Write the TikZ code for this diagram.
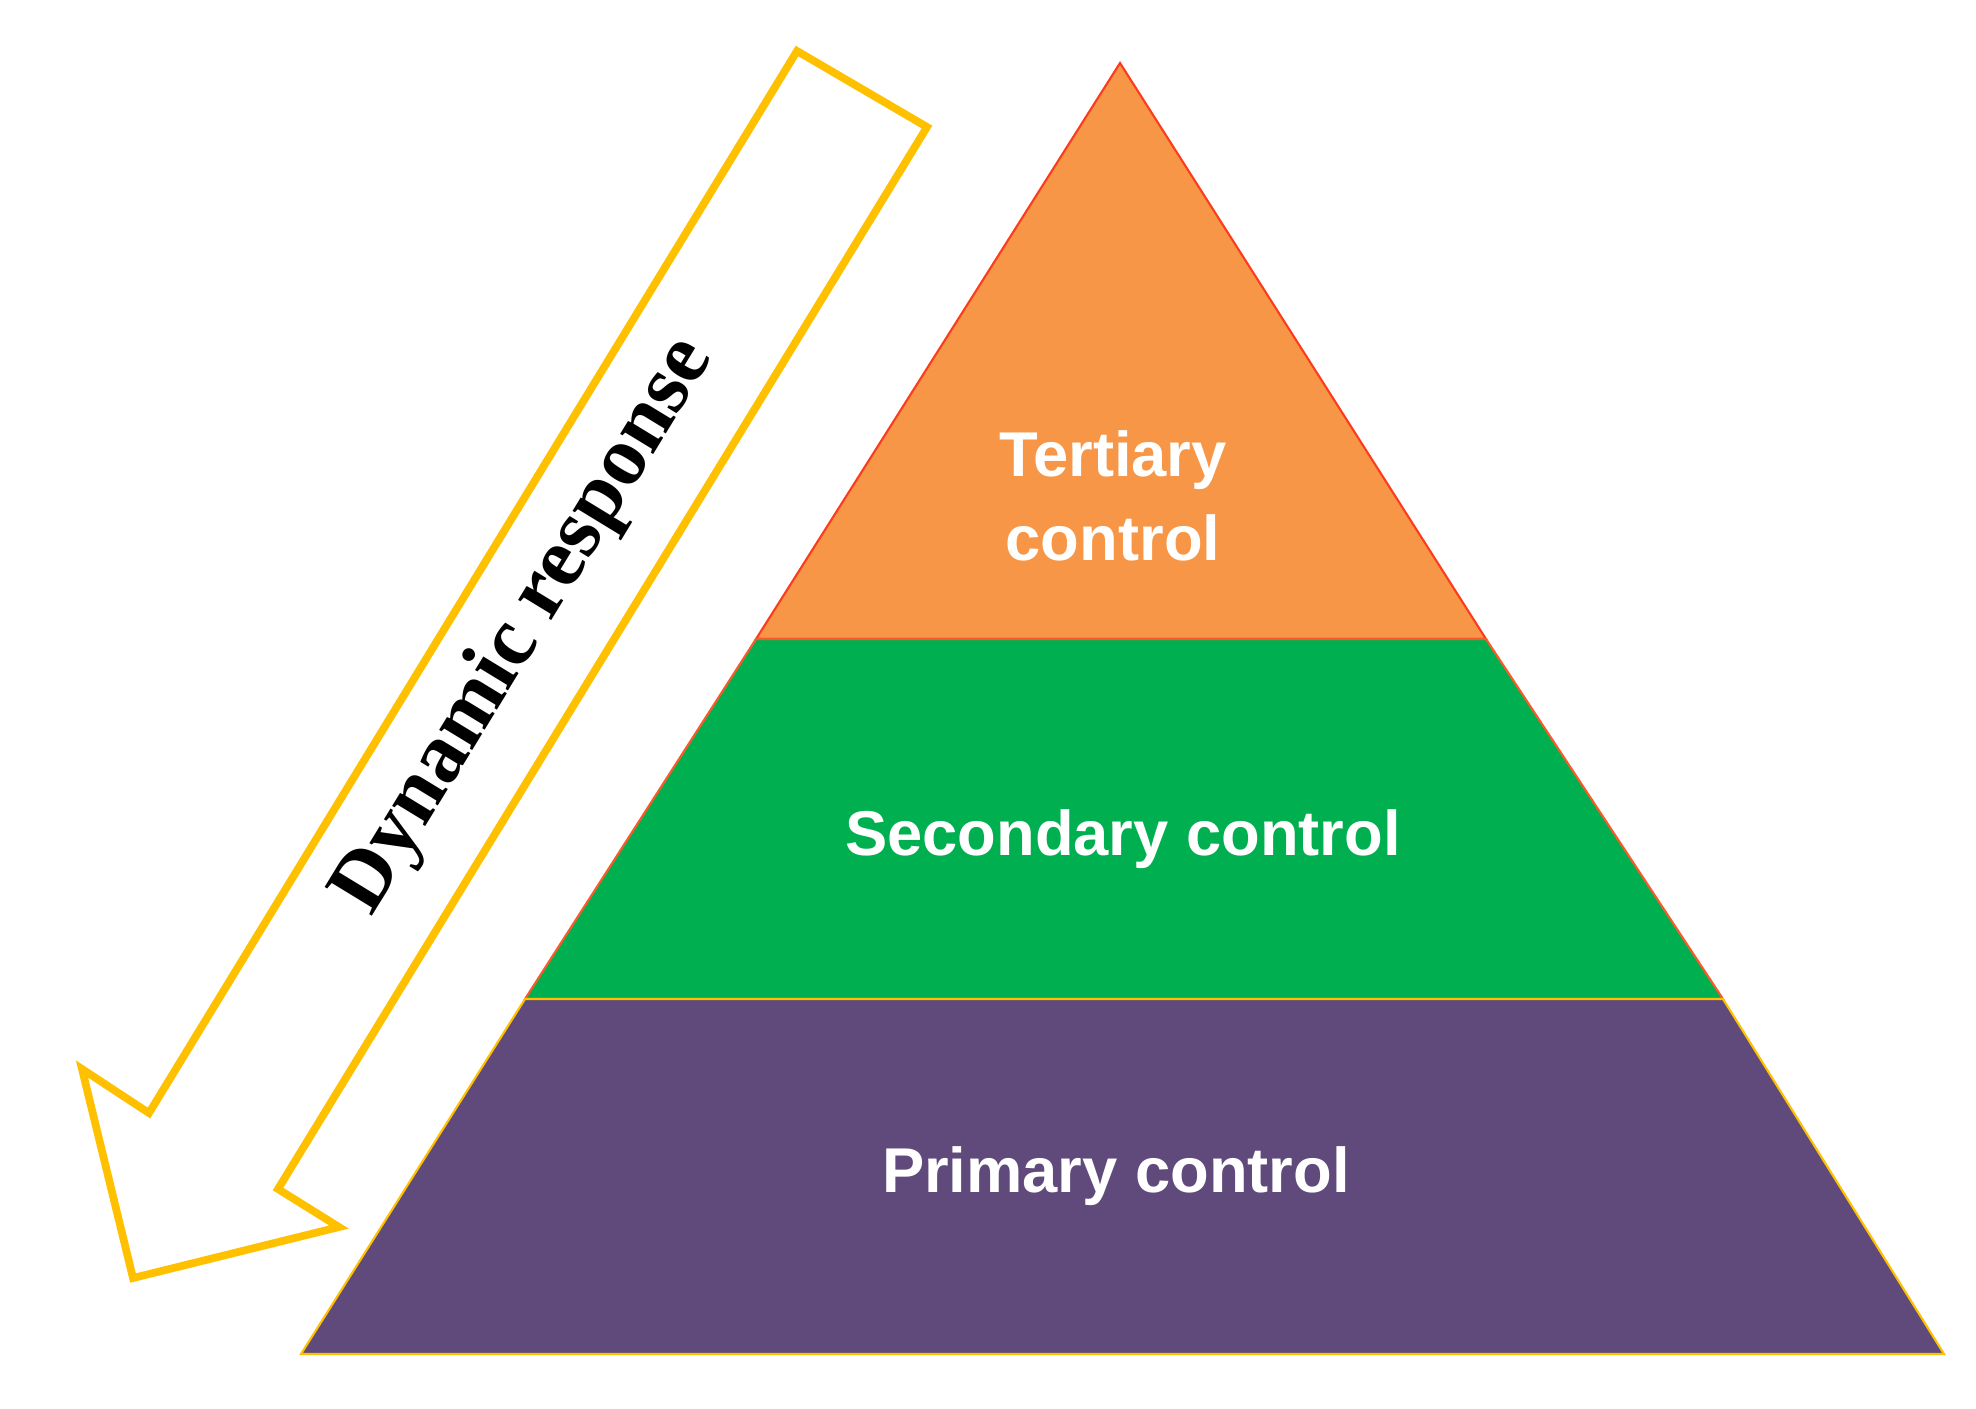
\documentclass[tikz,border=0pt]{standalone}
\usepackage{fontspec}
\setmainfont{Liberation Sans}
\newfontfamily\serifb{Liberation Serif}
\definecolor{tert}{HTML}{F79646}
\definecolor{sec}{HTML}{00B050}
\definecolor{prim}{HTML}{604A7B}
\definecolor{arr}{HTML}{FFC000}
\begin{document}
\begin{tikzpicture}[x=0.01cm,y=-0.01cm,
  lvl/.style={text=white,font=\bfseries\fontsize{18}{22}\selectfont,align=center}]
\useasboundingbox (0,0) rectangle (1976,1408);
\fill[tert,draw={red!60!tert},line width=0.6pt] (1120,63) -- (1486,639) -- (756,639) -- cycle;
\fill[sec,draw={red!40!tert},line width=0.6pt] (756,639) -- (1486,639) -- (1723,999) -- (525,999) -- cycle;
\fill[prim,draw=arr,line width=0.6pt] (525,999) -- (1723,999) -- (1944,1354) -- (301,1354) -- cycle;
\node[lvl] (t) at (1113,496) {Tertiary\\[2pt]control};
\node[lvl] (s) at (1123,839) {Secondary control};
\node[lvl] (p) at (1116,1176) {Primary control};
\draw[arr,line width=2.2pt,line join=miter] (797,51) -- (927,127) -- (278,1189) -- (339,1227) -- (133,1278) -- (82,1069) -- (149,1113) -- cycle;
\node[rotate=58.6,font=\serifb\bfseries\fontsize{24}{28}\selectfont] (d) at (525,626) {Dynamic response};
\end{tikzpicture}
\end{document}
